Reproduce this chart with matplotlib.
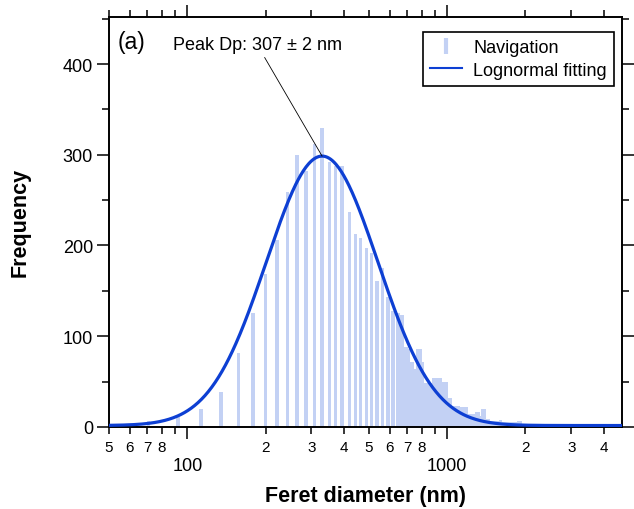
import numpy as np
import matplotlib
matplotlib.use('Agg')
import matplotlib.pyplot as plt
from matplotlib.lines import Line2D
from matplotlib.ticker import FixedLocator, FixedFormatter

plt.rcParams['font.family'] = ['Liberation Sans', 'DejaVu Sans']

""" Histogram read off the picture (Feret diameter in nm, counts) """
nav_dp = [71, 92, 113, 135, 157, 179, 200, 221, 243, 264,
          286, 308, 330, 352, 372, 394, 420, 443, 464, 488,
          511, 537, 564, 592, 619, 647, 670,
          681, 694, 706, 719, 732, 745, 758, 772, 786, 800,
          814, 829, 844, 859, 874, 890, 906, 922, 938, 955,
          972, 990, 1008, 1026, 1044, 1063, 1082, 1102, 1121, 1141,
          1162, 1183, 1204, 1226, 1248, 1270, 1293, 1316, 1340, 1364,
          1389, 1414, 1439, 1465, 1491, 1518, 1545, 1573, 1601, 1630,
          1660, 1689, 1720, 1751, 1782, 1814, 1847, 1880, 1914,
          1950, 2000, 2050, 2100, 2200]
nav_freq = [7, 11, 20, 38, 82, 125, 169, 206, 259, 300,
            282, 312, 329, 292, 288, 288, 237, 213, 208, 197,
            192, 161, 175, 143, 128, 126, 123,
            88, 88, 86, 71, 71, 64, 64, 86, 86, 71,
            48, 48, 48, 48, 48, 54, 54, 54, 54, 50,
            50, 50, 32, 32, 23, 23, 23, 23, 22, 22,
            22, 22, 14, 14, 14, 14, 16, 16, 12, 20,
            20, 9, 9, 7, 7, 7, 7, 7, 8, 5,
            5, 5, 5, 5, 5, 5, 5, 6, 6,
            3, 3, 2, 2, 2]

""" Lognormal fit parameters (y0 + A*exp(-(ln(x/x0)/w)^2)) """
fit_y0 = 1.5
fit_amp = 297
fit_x0 = 330
fit_width = 0.70

x_minor_ticks = [50, 60, 70, 80, 90, 200, 300, 400, 500, 600, 700, 800, 900, 2000, 3000, 4000]
x_minor_labels = ['5', '6', '7', '8', '', '2', '3', '4', '5', '6', '7', '8', '', '2', '3', '4']
x_major_ticks = [100, 1000]
y_major_ticks = [0, 100, 200, 300, 400]
y_minor_ticks = [50, 150, 250, 350, 450]

bar_col = '#c3d1f4'
line_col = '#0d3fd3'

fig = plt.figure(figsize=(6.34, 5.10), dpi=100)
ax = fig.add_axes([0.172, 0.161, 0.809, 0.804])

dp = np.array(nav_dp, dtype=float)
ax.bar(dp, nav_freq, width=dp * 0.03, color=bar_col, linewidth=0, zorder=1)

xs = np.logspace(np.log10(50), np.log10(4700), 600)
ax.plot(xs, fit_y0 + fit_amp * np.exp(-(np.log(xs / fit_x0) / fit_width) ** 2),
        color=line_col, lw=2.3, zorder=3)

ax.set_xscale('log')
ax.set_xlim(50, 4700)
ax.set_ylim(0, 452)

ax.xaxis.set_major_locator(FixedLocator(x_major_ticks))
ax.xaxis.set_major_formatter(FixedFormatter([str(v) for v in x_major_ticks]))
ax.xaxis.set_minor_locator(FixedLocator(x_minor_ticks))
ax.xaxis.set_minor_formatter(FixedFormatter(x_minor_labels))
ax.yaxis.set_major_locator(FixedLocator(y_major_ticks))
ax.yaxis.set_minor_locator(FixedLocator(y_minor_ticks))

ax.tick_params(which='both', direction='out', width=1.1, top=True, right=True, color='black')
ax.tick_params(which='major', length=8.5)
ax.tick_params(which='minor', length=5)
ax.tick_params(axis='x', which='major', labelsize=13, pad=13)
ax.tick_params(axis='x', which='minor', labelsize=11, pad=4.5)
ax.tick_params(axis='y', which='major', labelsize=13, pad=3)
for s in ax.spines.values():
    s.set_linewidth(1.4)

ax.set_xlabel('Feret diameter (nm)', fontsize=15.5, fontweight='bold', labelpad=8)
ax.set_ylabel('Frequency', fontsize=15.5, fontweight='bold', labelpad=23)

ax.text(0.016, 0.94, '(a)', transform=ax.transAxes, fontsize=16.5, va='center', ha='left')
ax.annotate('Peak Dp: 307 \u00b1 2 nm', xy=(fit_x0, fit_y0 + fit_amp), xytext=(186, 421),
            fontsize=13, ha='center', va='center',
            arrowprops=dict(arrowstyle='-', color='black', lw=0.6, shrinkA=1, shrinkB=0))

handles = [Line2D([], [], ls='none', marker='|', color=bar_col, markersize=11, mew=3),
           Line2D([], [], color=line_col, lw=1.5)]
leg = ax.legend(handles, ['Navigation', 'Lognormal fitting'], loc='upper right',
                bbox_to_anchor=(614 / 634, 1 - 33 / 510), bbox_transform=fig.transFigure,
                fontsize=13, frameon=True, fancybox=False, framealpha=1,
                edgecolor='black', borderaxespad=0, handlelength=1.8,
                handletextpad=0.6, borderpad=0.4, labelspacing=0.3)
leg.get_frame().set_linewidth(1.2)

fig.savefig('out.png', dpi=100)
